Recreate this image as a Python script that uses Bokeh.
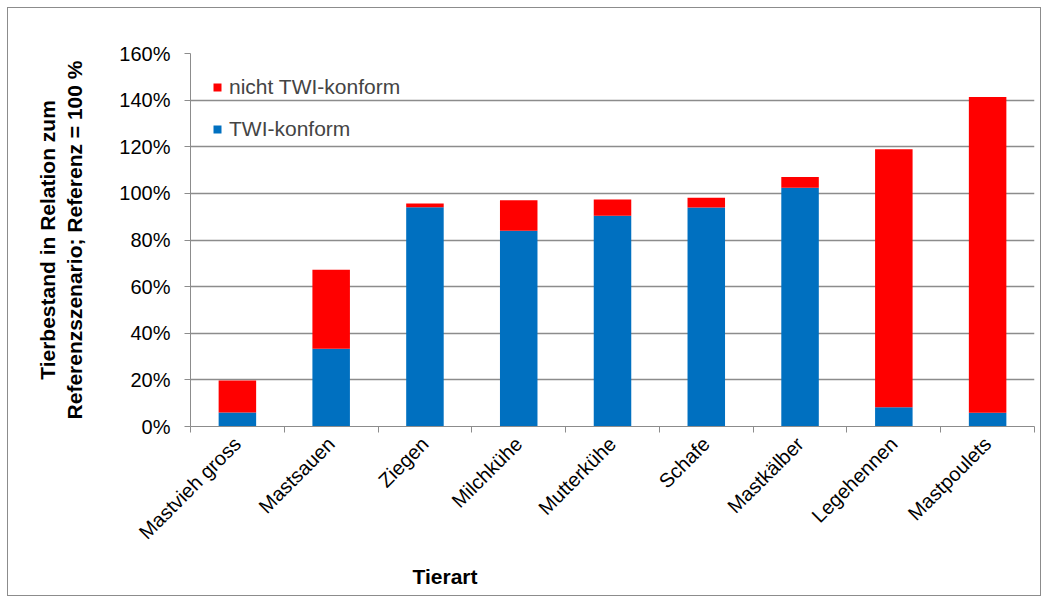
import math
from bokeh.plotting import figure
from bokeh.models import FixedTicker, NumeralTickFormatter, Range1d, ColumnDataSource, Legend, LegendItem, Title
from bokeh.embed import file_html
from bokeh.resources import INLINE

categories = ["Mastvieh gross", "Mastsauen", "Ziegen", "Milchkühe", "Mutterkühe",
              "Schafe", "Mastkälber", "Legehennen", "Mastpoulets"]
twi_konform = [0.060, 0.333, 0.941, 0.840, 0.904, 0.939, 1.024, 0.083, 0.059]
nicht_twi_konform = [0.137, 0.339, 0.016, 0.131, 0.070, 0.042, 0.046, 1.106, 1.354]
y_ticks = [0.0, 0.2, 0.4, 0.6, 0.8, 1.0, 1.2, 1.4, 1.6]

x_pos = [i + 0.5 for i in range(len(categories))]
src = ColumnDataSource(dict(x=x_pos, twi=twi_konform, nicht=nicht_twi_konform))

p = figure(width=1034, height=589, output_backend="svg", toolbar_location=None,
           x_range=Range1d(0, len(categories)), y_range=Range1d(0, 1.6),
           min_border_left=182, min_border_right=8, min_border_top=45, min_border_bottom=171)
p.styles = {"border": "1px solid #8c8c8c", "margin": "7px 0px 0px 7px"}
p.outline_line_color = None

rs = p.vbar_stack(["twi", "nicht"], x="x", width=0.4, source=src,
                  color=["#0070C0", "#FF0000"], line_color=None)

legend = Legend(items=[LegendItem(label="nicht TWI-konform", renderers=[rs[1]]),
                       LegendItem(label="TWI-konform", renderers=[rs[0]])],
                location="top_left")
legend.border_line_color = None
legend.background_fill_alpha = 0
legend.label_text_font = "Liberation Sans"
legend.label_text_font_size = "21px"
legend.glyph_width = 10
legend.glyph_height = 10
legend.label_standoff = 7
legend.spacing = 18
legend.margin = 22
legend.padding = 10
p.add_layout(legend)

# y axis
p.yaxis.ticker = FixedTicker(ticks=y_ticks)
p.yaxis.formatter = NumeralTickFormatter(format="0%")
p.yaxis.major_label_text_font = "Liberation Sans"
p.yaxis.major_label_text_font_size = "20px"
p.yaxis.major_label_text_color = "black"
p.yaxis.axis_line_color = "#8c8c8c"
p.yaxis.major_tick_line_color = "#8c8c8c"
p.yaxis.major_tick_out = 6
p.yaxis.major_tick_in = 0
p.yaxis.minor_tick_line_color = None
p.yaxis.major_label_standoff = 14
p.yaxis.axis_label = "Tierbestand in Relation zum\nReferenzszenario; Referenz = 100 %"
p.yaxis.axis_label_text_font = "Liberation Sans"
p.yaxis.axis_label_text_font_size = "21px"
p.yaxis.axis_label_text_font_style = "bold"
p.yaxis.axis_label_text_color = "black"
p.yaxis.axis_label_standoff = 30

# x axis
p.xaxis.ticker = FixedTicker(ticks=x_pos, minor_ticks=list(range(len(categories) + 1)))
p.xaxis.major_label_overrides = {x: c for x, c in zip(x_pos, categories)}
p.xaxis.major_label_orientation = math.pi / 4
p.xaxis.major_label_text_font = "Liberation Sans"
p.xaxis.major_label_text_font_size = "20px"
p.xaxis.major_label_text_color = "black"
p.xaxis.major_tick_line_color = None
p.xaxis.major_tick_out = 6
p.xaxis.minor_tick_line_color = "#8c8c8c"
p.xaxis.minor_tick_out = 6
p.xaxis.minor_tick_in = 0
p.xaxis.axis_line_color = "#8c8c8c"
p.xaxis.major_label_standoff = 8

x_title = Title(text="Tierart", align="left", offset=222,
                text_font="Liberation Sans", text_font_size="21px", text_font_style="bold",
                text_color="black", standoff=16)
p.add_layout(x_title, "below")

p.xgrid.grid_line_color = None
p.ygrid.ticker = FixedTicker(ticks=y_ticks)
p.ygrid.grid_line_color = "#8c8c8c"
p.ygrid.grid_line_width = 1.5

open("out.html", "w").write(file_html(p, INLINE))
